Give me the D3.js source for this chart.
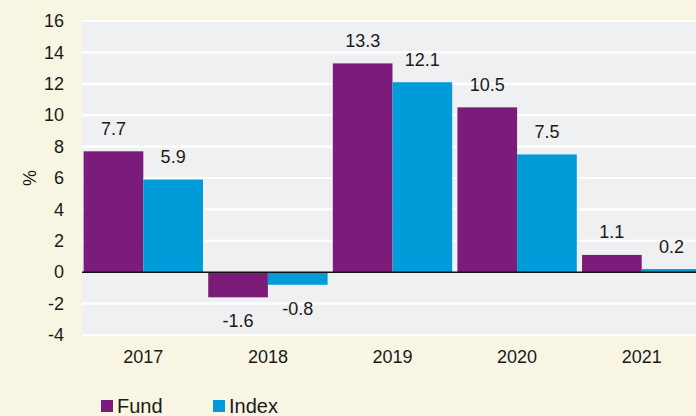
<!DOCTYPE html>
<html>
<head>
<meta charset="utf-8">
<script src="https://cdn.jsdelivr.net/npm/d3@7"></script>
<style>
  html, body { margin: 0; padding: 0; background: #f8f5e3; }
  svg { display: block; }
  text { font-family: "Liberation Sans", Arial, Helvetica, sans-serif; fill: #1a1a1a; }
</style>
</head>
<body>
<svg id="chart" width="696" height="416"></svg>
<script>
const years = ["2017", "2018", "2019", "2020", "2021"];
const seriesNames = ["Fund", "Index"];
const fundValues = [7.7, -1.6, 13.3, 10.5, 1.1];
const indexValues = [5.9, -0.8, 12.1, 7.5, 0.2];
const yTicks = [-4, -2, 0, 2, 4, 6, 8, 10, 12, 14, 16];
const colors = { Fund: "#7b1c7a", Index: "#009cd9" };

const hy = s => String(s).replace("\u2212", "-");
const fmtVal = v => hy(d3.format(".1f")(v));
const fmtTick = v => hy(d3.format("d")(v));

const svg = d3.select("#chart");
const W = 696, H = 416;
svg.append("rect").attr("width", W).attr("height", H).attr("fill", "#f8f5e3");

const plotLeft = 82, plotRight = 704, plotTop = 21, plotBottom = 335;

const y = d3.scaleLinear().domain([-4, 16]).range([plotBottom, plotTop]);
const x0 = d3.scaleBand().domain(years).range([81, 704]).paddingInner(0.042).paddingOuter(0.021);
const x1 = d3.scaleBand().domain(seriesNames).range([0, x0.bandwidth()]);

// plot background
svg.append("rect")
  .attr("x", plotLeft).attr("y", plotTop)
  .attr("width", plotRight - plotLeft).attr("height", plotBottom - plotTop)
  .attr("fill", "#eff0f2");

// gridlines
svg.append("g").selectAll("line")
  .data(yTicks.filter(d => d !== 0))
  .join("line")
  .attr("x1", plotLeft).attr("x2", plotRight)
  .attr("y1", d => y(d)).attr("y2", d => y(d))
  .attr("stroke", "#ffffff").attr("stroke-width", 2.2);

// y axis labels
const yAxis = d3.axisLeft(y).tickValues(yTicks).tickSize(0).tickPadding(0).tickFormat(fmtTick);
const yg = svg.append("g").attr("transform", `translate(64,0)`).call(yAxis);
yg.select(".domain").remove();
yg.selectAll("text").style("font-size", "18px").attr("fill", "#1a1a1a")
  .attr("font-family", "Liberation Sans, Arial, sans-serif");

// % label
svg.append("text")
  .attr("transform", `translate(36,${178}) rotate(-90)`)
  .attr("text-anchor", "middle")
  .style("font-size", "18px")
  .text("%");

// data
const data = years.map((yr, i) => ({ year: yr, values: [
  { key: "Fund", value: fundValues[i] },
  { key: "Index", value: indexValues[i] }
]}));

const groups = svg.append("g").selectAll("g")
  .data(data).join("g")
  .attr("transform", d => `translate(${x0(d.year)},0)`);

groups.selectAll("rect")
  .data(d => d.values).join("rect")
  .attr("x", d => x1(d.key))
  .attr("width", x1.bandwidth())
  .attr("y", d => y(Math.max(0, d.value)))
  .attr("height", d => Math.abs(y(d.value) - y(0)))
  .attr("fill", d => colors[d.key]);

groups.selectAll("text.val")
  .data(d => d.values).join("text")
  .attr("class", "val")
  .attr("x", d => x1(d.key) + x1.bandwidth() / 2)
  .attr("y", d => d.value >= 0 ? y(d.value) - 16.5 : y(d.value) + 30)
  .attr("text-anchor", "middle")
  .style("font-size", "18px")
  .text(d => fmtVal(d.value));

// zero line
svg.append("line")
  .attr("x1", plotLeft).attr("x2", plotRight)
  .attr("y1", y(0)).attr("y2", y(0))
  .attr("stroke", "#111").attr("stroke-width", 1.5);

// x axis labels
const xAxis = d3.axisBottom(x0).tickSize(0).tickPadding(0);
const xg = svg.append("g").attr("transform", `translate(0,${plotBottom + 15})`).call(xAxis);
xg.select(".domain").remove();
xg.selectAll("text").style("font-size", "18px").attr("fill", "#1a1a1a")
  .attr("font-family", "Liberation Sans, Arial, sans-serif");

// legend
const legendX = [101, 213];
const leg = svg.append("g").selectAll("g")
  .data(seriesNames).join("g")
  .attr("transform", (d, i) => `translate(${legendX[i]},400)`);
leg.append("rect").attr("width", 12).attr("height", 12).attr("fill", d => colors[d]);
leg.append("text").attr("x", 16).attr("y", 12.5).style("font-size", "20px").text(d => d);
</script>
</body>
</html>
